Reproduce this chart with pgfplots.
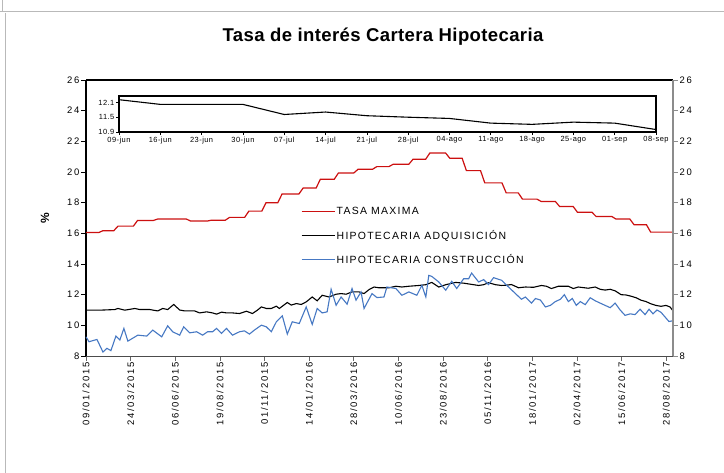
\documentclass[border=0pt]{standalone}
\usepackage{fontspec}
\setmainfont{Liberation Sans}[LetterSpace=18]
\newfontfamily\titlefont{Liberation Sans}[LetterSpace=2]
\newfontfamily\insetfont{Liberation Sans}[LetterSpace=6]
\newfontfamily\legfont{Liberation Sans}[LetterSpace=12]
\usepackage{pgfplots}
\pgfplotsset{compat=1.18}
\definecolor{redline}{RGB}{204,16,16}
\definecolor{blueline}{RGB}{70,120,195}
\begin{document}
\begin{tikzpicture}
\useasboundingbox (0,0) rectangle (724bp,-473bp);
\fill[white] (0,0) rectangle (724bp,-473bp);
\draw[gray!55] (2bp,0bp) -- (2bp,-11bp);
\draw[gray!55] (0bp,-11bp) -- (724bp,-11bp);
\draw[gray!55] (5bp,-13bp) -- (5bp,-473bp);
\node[font=\titlefont\fontsize{18.6}{20}\selectfont\bfseries] at (383bp,-37bp) {Tasa de interés Cartera Hipotecaria};
% main axis
\begin{axis}[
  at={(86bp,-356bp)}, anchor=south west, scale only axis,
  width=587bp, height=276bp,
  xmin=0, xmax=973, ymin=8, ymax=26,
  axis x line*=bottom, axis y line*=left,
  x axis line style={draw=black!70, line width=1bp},
  y axis line style={draw=black, line width=1.4bp},
  tick align=outside, major tick length=4.5bp,
  xtick style={draw=black!60, line width=0.8bp},
  ytick style={draw=black, line width=0.8bp},
  ytick={8,10,...,26},
  xtick={0,74,148,222,296,370,444,518,592,666,740,814,888,962},
  xticklabels={09/01/2015,24/03/2015,06/06/2015,19/08/2015,01/11/2015,14/01/2016,28/03/2016,10/06/2016,23/08/2016,05/11/2016,18/01/2017,02/04/2017,15/06/2017,28/08/2017},
  x tick label style={rotate=90, anchor=east, font=\fontsize{9.5}{11}\selectfont, inner sep=2bp},
  y tick label style={font=\fontsize{9.5}{11}\selectfont, inner sep=2bp},
  /pgf/number format/assume math mode=true,
  ylabel={\%}, ylabel style={at={(axis description cs:-0.07,0.5)}, anchor=center, font=\fontsize{12}{14}\selectfont\bfseries},
  legend style={draw=none, fill=none, at={(axis description cs:0.366,0.545)}, anchor=north west,
    font=\legfont\fontsize{10.5}{12}\selectfont, row sep=11bp, inner sep=0pt,
    nodes={inner sep=1.5bp}},
  legend cell align=left,
  legend image code/.code={\draw[#1] (0bp,0bp) -- (33bp,0bp);},
  clip=false,
]
\draw[black, line width=1.4bp] (rel axis cs:0,1) -- (rel axis cs:1,1);
\addplot[redline, line width=1.2bp] coordinates {
(0,16.05) (21,16.05) (28,16.17) (46,16.17) (53,16.47) (78.5,16.47) (85.5,16.84)
(111.5,16.84) (118.5,16.93) (166.5,16.93) (173.5,16.80) (201,16.80) (208,16.86)
(231,16.86) (238,17.04) (263,17.04) (270,17.45) (291.5,17.45) (298.5,18.00)
(318,18.00) (325,18.57) (353,18.57) (360,18.96) (381.5,18.96) (388.5,19.53)
(411.5,19.53) (418.5,19.94) (444,19.94) (451,20.18) (475,20.18) (482,20.35)
(502,20.35) (509,20.50) (535,20.50) (542,20.83) (563,20.83) (570,21.24)
(596,21.24) (603,20.90) (623.5,20.90) (630.5,20.09) (654,20.09) (661,19.29)
(689.5,19.29) (696.5,18.64) (716.5,18.64) (723.5,18.23) (747.5,18.23) (754.5,18.08)
(778,18.08) (785,17.75) (807.5,17.75) (814.5,17.38) (838.5,17.38) (845.5,17.10)
(871.5,17.10) (878.5,16.93) (901.5,16.93) (908.5,16.56) (929,16.56) (936,16.08)
(973,16.08)};
\addlegendentry{TASA MAXIMA}
\addplot[black, line width=1.1bp] coordinates {
(0,10.99) (23.1,10.99) (47.9,11.03) (52.9,11.10) (64.4,10.99) (80.9,11.10)
(89.2,11.03) (105.7,11.03) (118.9,10.94) (127.2,11.10) (135.4,11.03) (145.4,11.36)
(155.3,11.00) (163.5,10.94) (180.0,10.94) (188.3,10.81) (199.9,10.88) (209.8,10.81)
(216.4,10.73) (224.6,10.86) (232.9,10.81) (242.8,10.81) (254.4,10.77) (265.9,10.92)
(275.9,10.77) (284.1,10.99) (290.7,11.20) (299.0,11.10) (307.2,11.10) (315.5,11.25)
(320.4,11.10) (333.7,11.49) (340.3,11.32) (348.5,11.42) (356.8,11.36) (365.0,11.53)
(375.0,11.85) (383.2,11.60) (391.5,11.96) (403.0,11.85) (414.6,12.03) (422.9,12.07)
(431.1,12.03) (441.0,12.18) (452.6,12.18) (460.9,12.07) (469.1,12.33) (477.4,12.50)
(485.6,12.45) (502.1,12.45) (513.7,12.55) (523.6,12.50) (535.2,12.55) (551.7,12.60)
(563.3,12.65) (573.2,12.80) (584.7,12.50) (596.3,12.65) (612.8,12.80) (626.0,12.75)
(634.3,12.70) (650.8,12.60) (659.1,12.65) (667.3,12.78) (678.9,12.65) (688.8,12.60)
(697.1,12.62) (705.3,12.66) (716.9,12.45) (728.4,12.50) (741.7,12.48) (754.9,12.60)
(763.1,12.55) (771.4,12.40) (783.0,12.55) (799.5,12.55) (807.7,12.40) (816.0,12.50)
(832.5,12.42) (844.1,12.50) (852.3,12.35) (860.6,12.30) (868.9,12.35) (877.1,12.25)
(887.0,12.00) (895.3,11.98) (903.5,11.90) (911.8,11.80) (920.0,11.64) (928.3,11.55)
(936.6,11.40) (944.8,11.30) (953.1,11.24) (961.4,11.30) (968.0,11.20) (973,10.95)};
\addlegendentry{HIPOTECARIA ADQUISICIÓN}
\addplot[blueline, line width=1.1bp] coordinates {
(0,9.25) (5.0,8.93) (18.2,9.08) (28.1,8.26) (34.7,8.50) (41.3,8.35) (49.6,9.30)
(56.1,9.04) (62.8,9.80) (69.4,8.97) (85.9,9.36) (100.8,9.30) (110.7,9.69)
(125.5,9.25) (135.4,9.97) (143.7,9.58) (155.3,9.36) (161.9,9.90) (171.8,9.51)
(183.4,9.58) (193.3,9.36) (201.5,9.58) (209.8,9.58) (216.4,9.80) (224.6,9.47)
(232.9,9.80) (242.8,9.36) (254.4,9.58) (262.6,9.64) (270.9,9.43) (279.1,9.69)
(290.7,10.01) (299.0,9.90) (307.2,9.58) (315.5,10.23) (325.4,10.62) (333.7,9.43)
(341.9,10.23) (353.5,10.12) (365.0,11.20) (375.0,10.06) (383.2,11.10) (391.5,10.81)
(399.7,10.88) (406.3,12.35) (414.6,11.31) (422.9,11.85) (432.8,11.38) (441.0,12.40)
(447.6,11.64) (455.9,12.18) (460.9,11.10) (474.1,12.07) (482.3,11.81) (493.9,11.85)
(498.8,12.50) (513.7,12.40) (523.6,11.96) (535.2,12.18) (548.4,11.96) (556.7,12.61)
(563.3,11.85) (568.2,13.26) (573.2,13.19) (584.7,12.83) (596.3,12.29) (606.2,12.87)
(614.5,12.40) (626.0,13.04) (634.3,13.04) (639.2,13.41) (650.8,12.83) (659.1,12.98)
(667.3,12.66) (675.6,13.11) (688.8,12.94) (700.4,12.50) (711.9,12.07) (721.8,11.70)
(728.4,11.85) (738.4,11.45) (745.0,11.75) (753.2,11.65) (761.5,11.20) (769.7,11.30)
(778.0,11.55) (786.3,11.70) (792.9,12.00) (799.5,11.55) (806.1,11.75) (812.7,11.30)
(819.3,11.55) (827.5,11.35) (835.8,11.80) (844.1,11.60) (852.3,11.45) (860.6,11.30)
(868.9,11.15) (877.1,11.45) (885.4,11.00) (893.6,10.65) (901.9,10.75) (910.1,10.70)
(918.4,11.05) (926.7,10.70) (933.3,11.05) (939.9,10.75) (946.5,11.00) (953.1,10.85)
(959.7,10.55) (966.3,10.25) (973,10.30)};
\addlegendentry{HIPOTECARIA CONSTRUCCIÓN}
\end{axis}
% right axis
\begin{axis}[
  at={(86bp,-356bp)}, anchor=south west, scale only axis,
  width=587bp, height=276bp,
  xmin=0, xmax=973, ymin=8, ymax=26,
  axis x line=none, axis y line*=right,
  y axis line style={draw=black!45, line width=1.2bp},
  tick align=outside, major tick length=4.5bp,
  ytick style={draw=black!45, line width=0.8bp},
  ytick={8,10,...,26},
  y tick label style={font=\fontsize{9.5}{11}\selectfont, inner sep=2bp},
  /pgf/number format/assume math mode=true,
]
\addplot[draw=none] coordinates {(0,8)};
\end{axis}
% inset
\begin{axis}[
  at={(119bp,-132bp)}, anchor=south west, scale only axis,
  width=537bp, height=36bp,
  xmin=0, xmax=13, ymin=10.9, ymax=12.36,
  axis background/.style={fill=white},
  axis line style={draw=black, line width=1.1bp},
  xtick pos=left, ytick pos=left,
  tick align=outside, major tick length=3bp,
  tick style={draw=black, line width=0.6bp},
  xtick={0,...,13},
  xticklabels={09-jun,16-jun,23-jun,30-jun,07-jul,14-jul,21-jul,28-jul,04-ago,11-ago,18-ago,25-ago,01-sep,08-sep},
  ytick={10.9,11.5,12.1},
  yticklabels={10.9,11.5,12.1},
  tick label style={font=\insetfont\fontsize{7.5}{9}\selectfont, inner sep=1.5bp},
  /pgf/number format/assume math mode=true,
]
\addplot[black, line width=1.1bp] coordinates {
(0,12.21) (1,12.02) (2,12.02) (3,12.02) (4,11.61) (5,11.71) (6,11.56)
(7,11.50) (8,11.45) (9,11.26) (10,11.21) (11,11.30) (12,11.26) (13,11.00)};
\end{axis}
\end{tikzpicture}
\end{document}
